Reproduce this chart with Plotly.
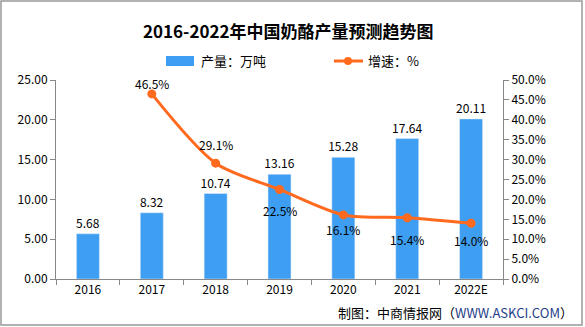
import plotly.graph_objects as go

years = ["2016", "2017", "2018", "2019", "2020", "2021", "2022E"]
output = [5.68, 8.32, 10.74, 13.16, 15.28, 17.64, 20.11]
growth_years = ["2017", "2018", "2019", "2020", "2021", "2022E"]
growth = [46.5, 29.1, 22.5, 16.1, 15.4, 14.0]
left_ticks = [0, 5, 10, 15, 20, 25]
right_ticks = [0, 5, 10, 15, 20, 25, 30, 35, 40, 45, 50]

# label offsets (pixels) for growth labels
label_shift = [10, 19, -21, -15, -22, -17]

BLUE = "#3E9EF2"
ORANGE = "#FF6A1F"
FONT = "Noto Sans CJK SC"

W, H = 585, 327
L, R, T, B = 56, 82, 80, 48
PW, PH = W - L - R, H - T - B

def px(x):
    return (x - L) / PW

def py(y):
    return (H - B - y) / PH

fig = go.Figure()
fig.add_trace(go.Bar(
    x=years, y=output, marker_color=BLUE, width=0.36,
    text=[f"{v:.2f}" for v in output], textposition="outside",
    constraintext="none",
    textfont=dict(size=12, color="#000", family=FONT),
    cliponaxis=False, showlegend=False,
))
fig.add_trace(go.Scatter(
    x=growth_years, y=growth, yaxis="y2", mode="lines+markers",
    line=dict(color=ORANGE, width=3, shape="spline", smoothing=0.8),
    marker=dict(color=ORANGE, size=9),
    cliponaxis=False, showlegend=False,
))

shapes = [
    dict(type="rect", xref="paper", yref="paper",
         x0=px(1), x1=px(582), y0=py(325), y1=py(1),
         line=dict(color="#999", width=1.5), fillcolor="rgba(0,0,0,0)"),
    dict(type="rect", xref="paper", yref="paper",
         x0=px(166), x1=px(194), y0=py(66), y1=py(56),
         line=dict(width=0), fillcolor=BLUE),
    dict(type="line", xref="paper", yref="paper",
         x0=px(334), x1=px(363), y0=py(61), y1=py(61),
         line=dict(color=ORANGE, width=3)),
    dict(type="circle", xref="paper", yref="paper",
         x0=px(344), x1=px(352), y0=py(65), y1=py(57),
         line=dict(width=0), fillcolor=ORANGE),
]

annotations = [
    dict(text="<b>2016-2022年中国奶酪产量预测趋势图</b>", xref="paper", yref="paper",
         x=px(288), y=py(30), showarrow=False, xanchor="center", yanchor="middle",
         font=dict(size=17, color="#000", family=FONT)),
    dict(text="产量：万吨", xref="paper", yref="paper", x=px(199), y=py(61),
         showarrow=False, xanchor="left", yanchor="middle",
         font=dict(size=13, color="#000", family=FONT)),
    dict(text="增速：%", xref="paper", yref="paper", x=px(366), y=py(61),
         showarrow=False, xanchor="left", yanchor="middle",
         font=dict(size=13, color="#000", family=FONT)),
    dict(text="制图：中商情报网（<span style='color:#1F3C88'>WWW.ASKCI.COM</span>）",
         xref="paper", yref="paper", x=px(575), y=py(312), showarrow=False,
         xanchor="right", yanchor="middle",
         font=dict(size=13, color="#000", family=FONT)),
]
for yr, g, s in zip(growth_years, growth, label_shift):
    annotations.append(dict(
        text=f"{g:.1f}%", x=years.index(yr), y=g, xref="x", yref="y2", yshift=s,
        showarrow=False, xanchor="center", yanchor="middle",
        font=dict(size=12, color="#000", family=FONT)))

fig.update_layout(
    width=W, height=H, margin=dict(l=L, r=R, t=T, b=B),
    paper_bgcolor="white", plot_bgcolor="white",
    font=dict(family=FONT, size=12, color="#000"),
    bargap=0.64, shapes=shapes, annotations=annotations,
    xaxis=dict(type="category", categoryorder="array", categoryarray=years,
               range=[-0.5, len(years) - 0.5],
               showline=True, linecolor="#888", linewidth=1,
               ticks="outside", tickson="boundaries", ticklen=5, tickcolor="#888",
               showgrid=False, tickfont=dict(size=12, family=FONT)),
    yaxis=dict(range=[0, 25], tickvals=left_ticks,
               ticktext=[f"{v:.2f}" for v in left_ticks],
               showline=True, linecolor="#888", linewidth=1, ticks="outside",
               ticklen=5, tickcolor="#888", showgrid=False, zeroline=False,
               tickfont=dict(size=12, family=FONT)),
    yaxis2=dict(range=[0, 50], tickvals=right_ticks,
                ticktext=[f"{v:.1f}%" for v in right_ticks],
                overlaying="y", side="right", showline=True, linecolor="#888",
                linewidth=1, ticks="outside", ticklen=5, tickcolor="#888",
                showgrid=False, zeroline=False,
                tickfont=dict(size=12, family=FONT)),
)

fig.write_html("out.html")
